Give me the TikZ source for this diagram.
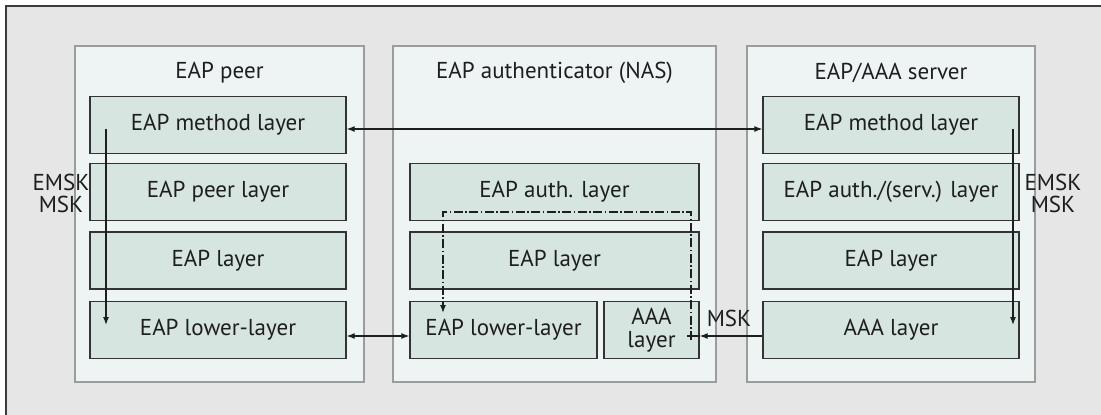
\documentclass[tikz,border=0pt]{standalone}
\usepackage{fontspec}
\setmainfont{PT Sans}
\usetikzlibrary{arrows.meta}
\definecolor{framebg}{HTML}{E6E6E6}
\definecolor{framedraw}{HTML}{3C3C3C}
\definecolor{boxbg}{HTML}{EEF4F4}
\definecolor{boxdraw}{HTML}{9C9C9C}
\definecolor{layerbg}{HTML}{D7E5E1}
\definecolor{layerdraw}{HTML}{333333}
\definecolor{ink}{HTML}{1E1E1E}
\tikzset{
  entity/.style={draw=boxdraw, fill=boxbg, line width=2.6pt, minimum height=336pt, inner sep=0pt},
  layerbox/.style={draw=layerdraw, fill=layerbg, line width=1.3pt, minimum height=57pt, inner sep=0pt, text=ink, font=\fontsize{23}{24}\selectfont, align=center},
  title/.style={text=ink, font=\fontsize{23}{24}\selectfont, inner sep=0pt},
  keylabel/.style={text=ink, font=\fontsize{23}{22}\selectfont, align=center, inner sep=0pt},
  link/.style={draw=ink, line width=1.2pt},
  tip/.style={-{Latex[length=8pt,width=6pt]}},
  tips/.style={{Latex[length=8pt,width=6pt]}-{Latex[length=8pt,width=6pt]}},
  keypath/.style={draw=ink, line width=1.2pt, dash pattern=on 9pt off 2.5pt on 1.5pt off 2.5pt}
}
\begin{document}
\begin{tikzpicture}[x=1pt, y=-1pt]
\useasboundingbox (0,0) rectangle (1101,415);
\clip (0,0) rectangle (1101,415);
% outer frame
\draw[draw=framedraw, fill=framebg, line width=1.2pt] (6,6) rectangle (1110,430);

% the three entities
\node[entity, minimum width=289pt] (peer) at (219.5,214) {};
\node[entity, minimum width=323pt] (nas) at (554.5,214) {};
\node[entity, minimum width=288pt] (srv) at (891,214) {};

\node[title] (peerT) at (219.5,73) {EAP peer};
\node[title] (nasT) at (554.5,73) {EAP authenticator (NAS)};
\node[title] (srvT) at (891,73) {EAP/AAA server};

% peer stack
\node[layerbox, minimum width=256pt] (pMeth) at (218,125) {EAP method layer};
\node[layerbox, minimum width=256pt] (pPeer) at (218,192) {EAP peer layer};
\node[layerbox, minimum width=256pt] (pEap) at (218,260.5) {EAP layer};
\node[layerbox, minimum width=256pt] (pLow) at (218,330) {EAP lower-layer};

% authenticator stack
\node[layerbox, minimum width=289pt] (nAuth) at (554.5,192) {EAP auth. layer};
\node[layerbox, minimum width=289pt] (nEap) at (554.5,260.5) {EAP layer};
\node[layerbox, minimum width=187pt] (nLow) at (503.5,330) {EAP lower-layer};
\node[layerbox, minimum width=95pt, font=\fontsize{23}{22.5}\selectfont] (nAAA) at (651.5,330) {AAA\\layer};

% server stack
\node[layerbox, minimum width=256pt] (sMeth) at (891,125) {EAP method layer};
\node[layerbox, minimum width=256pt] (sAuth) at (891,192) {EAP auth./(serv.) layer};
\node[layerbox, minimum width=256pt] (sEap) at (891,260.5) {EAP layer};
\node[layerbox, minimum width=256pt] (sAAA) at (891,330) {AAA layer};

% peer-to-server method exchange and lower-layer link
\draw[link, tips] (pMeth.east |- 0,129) -- (sMeth.west |- 0,129);
\draw[link, tips] (pLow.east |- 0,336) -- (nLow.west |- 0,336);

% MSK handed from server to authenticator
\coordinate (mskEnd) at (687,336);
\draw[link, tip] (sAAA.west |- 0,336) -- (nAAA.east |- 0,336);
\draw[link] (nAAA.east |- 0,336) -- (mskEnd);
\node[keylabel] (mskL) at (729,318) {MSK};

% key derivation inside peer and server
\coordinate (pk0) at (106,129);
\coordinate (pk1) at (106,325);
\draw[link, tip] (pk0) -- (pk1);
\node[keylabel] (pKeys) at (61,193) {EMSK\\MSK};

\coordinate (sk0) at (1013,129);
\coordinate (sk1) at (1013,325);
\draw[link, tip] (sk0) -- (sk1);
\node[keylabel] (sKeys) at (1053,193) {EMSK\\MSK};

% key transfer inside the authenticator
\coordinate (nk0) at (691,340);
\coordinate (nk1) at (691,212);
\coordinate (nk2) at (443,212);
\coordinate (nk3) at (443,313);
\draw[keypath, tip] (nk0) -- (nk1) -- (nk2) -- (nk3);
\end{tikzpicture}
\end{document}
